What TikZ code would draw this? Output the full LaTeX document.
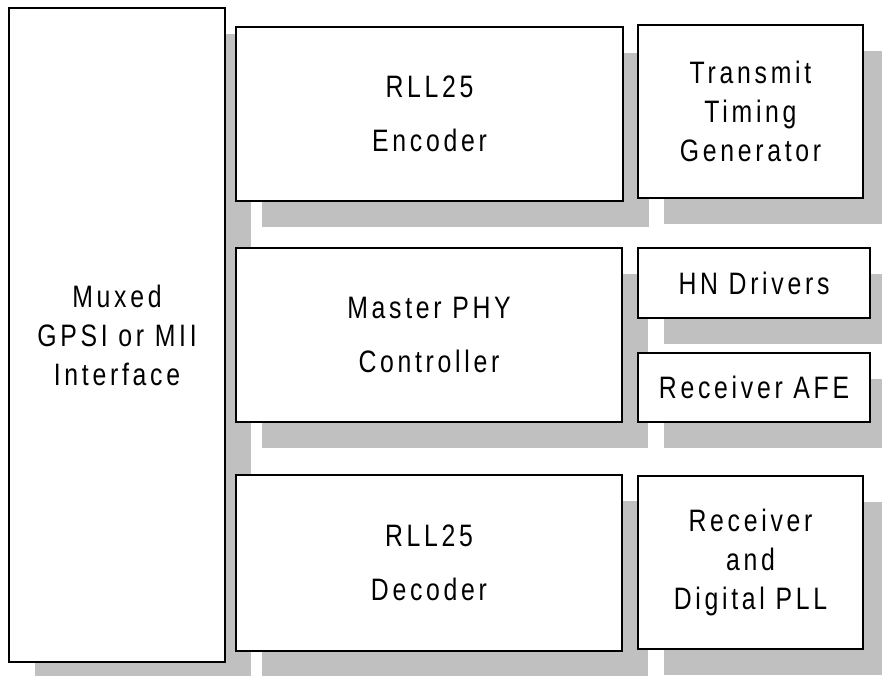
\documentclass[tikz,border=0pt]{standalone}
\usepackage{fontspec}
\setmainfont{Liberation Sans}[FakeStretch=0.8, LetterSpace=12]
\usetikzlibrary{shadows}
\definecolor{shadowgray}{HTML}{C0C0C0}
\tikzset{
  blk/.style={draw=black, line width=2pt, fill=white, inner sep=0pt, align=center,
    font=\fontsize{31}{39}\selectfont,
    drop shadow={shadow xshift=26pt, shadow yshift=-26pt, fill=shadowgray, opacity=1}},
}
\begin{document}
\begin{tikzpicture}[x=1pt, y=-1pt]
\useasboundingbox (0,0) rectangle (882,675);
% left interface block
\node[blk, minimum width=216pt, minimum height=654pt] (mii) at (117,335) {Muxed\\GPSI or MII\\Interface};
% middle column
\node[blk, minimum width=387pt, minimum height=174pt] (enc) at (429.5,114) {RLL25\\[15pt]Encoder};
\node[blk, minimum width=386pt, minimum height=174pt] (phy) at (429,335) {Master PHY\\[15pt]Controller};
\node[blk, minimum width=386pt, minimum height=176pt] (dec) at (429,563) {RLL25\\[15pt]Decoder};
% right column
\node[blk, minimum width=225pt, minimum height=173pt] (ttg) at (750.5,111.5) {Transmit\\Timing\\Generator};
\node[blk, minimum width=232pt, minimum height=70pt] (hnd) at (754,283) {HN Drivers};
\node[blk, minimum width=232pt, minimum height=69pt] (afe) at (754,387.5) {Receiver AFE};
\node[blk, minimum width=225pt, minimum height=173pt] (pll) at (750.5,562.5) {Receiver\\and\\Digital PLL};
\end{tikzpicture}
\end{document}
